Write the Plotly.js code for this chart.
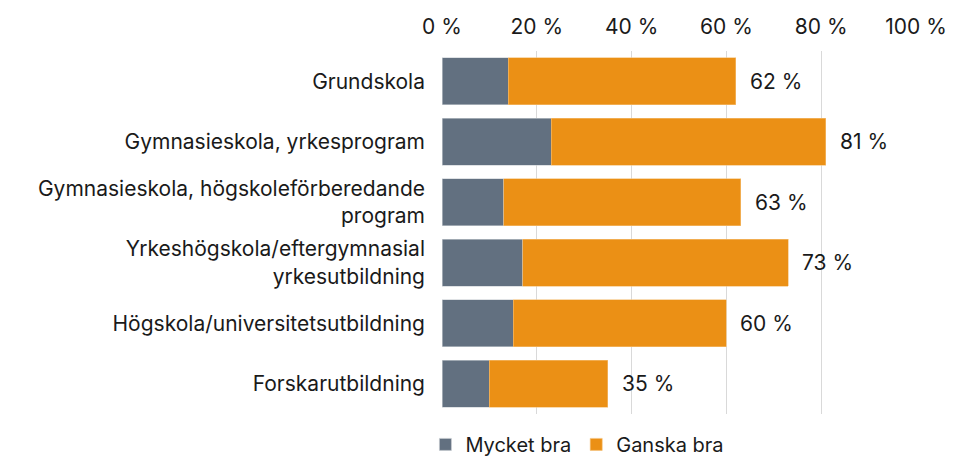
<!DOCTYPE html>
<html><head><meta charset="utf-8">
<script src="https://cdn.plot.ly/plotly-3.0.1.min.js"></script>
<style>html,body{margin:0;padding:0;background:#fff}#chart{width:957px;height:459px}</style>
</head><body><div id="chart"></div>
<script>
const categories = [
  "Grundskola",
  "Gymnasieskola, yrkesprogram",
  "Gymnasieskola, högskoleförberedande<br>program",
  "Yrkeshögskola/eftergymnasial<br>yrkesutbildning",
  "Högskola/universitetsutbildning",
  "Forskarutbildning"
];
const mycketBra = [14, 23, 13, 17, 15, 10];
const ganskaBra = [48, 58, 50, 56, 45, 25];
const totals = [62, 81, 63, 73, 60, 35];
const seriesNames = ["Mycket bra", "Ganska bra"];

const font = "Inter, 'Noto Sans', sans-serif";
const traces = [
  {type:'bar', orientation:'h', name:seriesNames[0], y:categories, x:mycketBra,
   marker:{color:'#627080', line:{color:'#c9ced4', width:0.6}}, hoverinfo:'x'},
  {type:'bar', orientation:'h', name:seriesNames[1], y:categories, x:ganskaBra,
   marker:{color:'#EB9015', line:{color:'#f5c27a', width:0.6}}, hoverinfo:'x'}
];
const annotations = categories.map((c,i)=>({
  x: totals[i], y: c, xref:'x', yref:'y', text: totals[i] + ' %',
  showarrow:false, xanchor:'left', xshift:12, font:{family:font, size:21, color:'#1a1a1a'}
}));
const layout = {
  width:957, height:459, barmode:'stack', bargap:0.22,
  margin:{l:442, r:41, t:51, b:45, autoexpand:false},
  font:{family:font, size:21, color:'#1a1a1a'},
  paper_bgcolor:'#fff', plot_bgcolor:'#fff',
  xaxis:{side:'top', range:[0,100], dtick:20, ticksuffix:' %', showgrid:true,
         gridcolor:'#d9d9d9', gridwidth:1, zeroline:false, ticks:'', fixedrange:true,
         ticklabelstandoff:12, tickfont:{size:21}},
  yaxis:{autorange:'reversed', showgrid:false, ticks:'', ticklen:0, zeroline:false,
         ticklabelstandoff:16, tickfont:{size:21}},
  showlegend:true,
  legend:{orientation:'h', x:-0.035, xanchor:'left', y:-0.03, yanchor:'top',
          font:{size:20}, traceorder:'normal', itemwidth:30, tracegroupgap:0},
  annotations: annotations
};
Plotly.newPlot('chart', traces, layout, {displayModeBar:false, staticPlot:true});
</script></body></html>
